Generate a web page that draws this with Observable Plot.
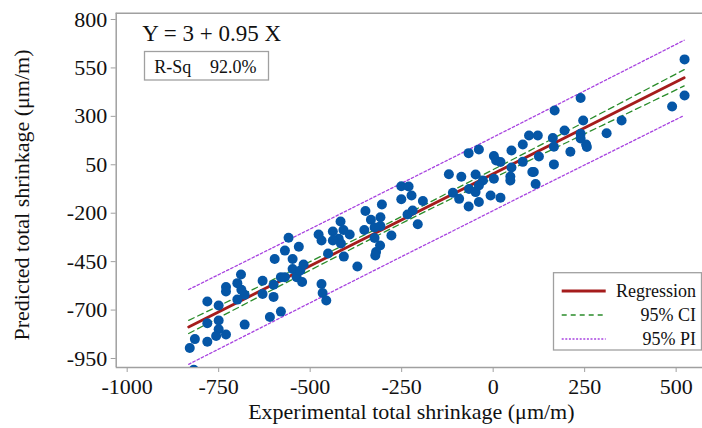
<!DOCTYPE html>
<html><head><meta charset="utf-8">
<script src="https://cdn.jsdelivr.net/npm/d3@7"></script>
<script src="https://cdn.jsdelivr.net/npm/@observablehq/plot@0.6"></script>
<style>html,body{margin:0;padding:0;background:#fff;}</style>
</head><body><div id="chart"></div>
<script>
const xTicks = [-1000, -750, -500, -250, 0, 250, 500];
const yTicks = [800, 550, 300, 50, -200, -450, -700, -950];
const xTitle = "Experimental total shrinkage (μm/m)";
const yTitle = "Predicted total shrinkage (μm/m)";
const equation = "Y = 3 + 0.95 X";
const rsqLabel = "R-Sq";
const rsqValue = "92.0%";
const legendLabels = ["Regression", "95% CI", "95% PI"];

const experimental = [523,523,489,351,310,239,246,168,195,163,166,166,239,239,254,256,211,98,122,81,50,125,81,50,47,47,107,111,116,2,8,20,2,-28,
 -67,-39,-121,-87,-48,-110,-93,-66,-48,-39,-67,-39,-7,20,-251,-231,-251,-223,-192,-234,-220,-206,-304,-308,-308,-278,
 -349,-352,-334,-324,-324,-309,-320,-322,-371,-392,-409,-417,-422,-416,-408,-438,-438,-451,-477,-469,-469,-466,-456,
 -559,-569,-531,-548,-548,-580,-569,-537,-527,-518,-522,-597,-600,-600,-610,-580,-630,-630,-679,-679,-689,-688,-699,-699,
 -730,-730,-730,-750,-750,-750,-757,-781,-781,-781,-815,-829,-818];
const predicted = [594,408,351,279,213,395,279,330,227,188,143,52,210,186,155,142,117,201,201,155,124,93,65,36,-11,-31,13,13,-49,95,72,64,-22,-31,
 110,129,1,-12,0,-95,-126,-75,-91,-57,-165,-142,-109,-120,-61,-62,-128,-109,-137,-207,-186,-257,-155,-221,-266,-315,
 -189,-287,-234,-274,-328,-367,-400,-418,-475,-310,-287,-243,-332,-356,-424,-294,-341,-408,-310,-341,-565,-612,-651,
 -327,-393,-373,-436,-488,-530,-530,-530,-496,-465,-555,-436,-569,-632,-736,-708,-549,-617,-621,-775,-516,-595,-561,-646,
 -581,-604,-826,-676,-754,-799,-834,-656,-768,-864,-850,-896,-1008];

const regX = [-832, 522];
const regY = [-787, 499];
const fitX = [-832, -600, -400, -250, -100, 100, 300, 522];
const ciUpper = [-753, -542, -357, -217, -72, 123, 321, 541];
const ciLower = [-821, -592, -397, -252, -112, 73, 255, 457];
const piUpper = [-594, -376, -187, -45, 97, 288, 480, 693];
const piLower = [-980, -758, -567, -424, -282, -92, 96, 305];

const xDomain = [-1030, 572];
const yDomain = [-996.5, 832.5];

const C = {reg: "#a51c1c", ci: "#2a8c2a", pi: "#a843e0", dot: "#0556a6", axis: "#a0a0a0", text: "#111"};

const series = (xs, ys) => xs.map((x, i) => ({x, y: ys[i]}));

const plot = Plot.plot({
  width: 702, height: 428,
  marginLeft: 115.7, marginRight: 0, marginTop: 12.7, marginBottom: 61,
  style: {fontFamily: "Liberation Serif", fontSize: "22px", color: C.text, background: "#fff"},
  x: {domain: xDomain, axis: null},
  y: {domain: yDomain, axis: null},
  marks: [
    Plot.ruleX([xDomain[0]], {stroke: C.axis, strokeWidth: 1.5}),
    Plot.ruleY([yDomain[1]], {stroke: C.axis, strokeWidth: 1.5}),
    Plot.ruleY([yDomain[0]], {stroke: C.axis, strokeWidth: 1.5}),
    Plot.line(series(fitX, piUpper), {x: "x", y: "y", stroke: C.pi, strokeWidth: 1.3, strokeDasharray: "2.5,2.2", curve: "natural"}),
    Plot.line(series(fitX, piLower), {x: "x", y: "y", stroke: C.pi, strokeWidth: 1.3, strokeDasharray: "2.5,2.2", curve: "natural"}),
    Plot.line(series(fitX, ciUpper), {x: "x", y: "y", stroke: C.ci, strokeWidth: 1.3, strokeDasharray: "6,4", curve: "natural"}),
    Plot.line(series(fitX, ciLower), {x: "x", y: "y", stroke: C.ci, strokeWidth: 1.3, strokeDasharray: "6,4", curve: "natural"}),
    Plot.line(series(regX, regY), {x: "x", y: "y", stroke: C.reg, strokeWidth: 2.8}),
    Plot.dot(series(experimental, predicted), {x: "x", y: "y", r: 5, fill: C.dot, stroke: "none", clip: true}),
    Plot.axisX(xTicks, {anchor: "bottom", tickSize: 5, tickPadding: 6, stroke: C.axis, fill: C.text, fontSize: 22, tickFormat: d => String(d), label: null}),
    Plot.axisY(yTicks, {anchor: "left", tickSize: 5, tickPadding: 4, stroke: C.axis, fill: C.text, fontSize: 22, tickFormat: d => String(d), label: null}),
    Plot.text([xTitle], {frameAnchor: "bottom", dx: 2, dy: 44, lineAnchor: "middle", fontSize: 22, fill: C.text}),
    Plot.text([equation], {frameAnchor: "top-left", dx: 26, dy: 20, textAnchor: "start", lineAnchor: "middle", fontSize: 23, fill: C.text})
  ]
});
document.getElementById("chart").appendChild(plot);

const svg = d3.select(plot);
// Y axis title
svg.append("text")
  .attr("transform", "translate(22,195) rotate(-90)")
  .attr("text-anchor", "middle").attr("dy", "0.32em")
  .attr("font-family", "Liberation Serif").attr("font-size", 22).attr("fill", C.text)
  .text(yTitle);

// R-Sq box
const rg = svg.append("g").attr("font-family", "Liberation Serif").attr("font-size", 18).attr("fill", C.text).attr("text-anchor", "start");
rg.append("rect").attr("x", 144.5).attr("y", 51.5).attr("width", 124).attr("height", 28.5)
  .attr("fill", "#fff").attr("stroke", C.axis).attr("stroke-width", 1.3);
rg.append("text").attr("x", 154.3).attr("y", 73.3).text(rsqLabel);
rg.append("text").attr("x", 210).attr("y", 73.3).text(rsqValue);

// Legend
const lg = svg.append("g").attr("font-family", "Liberation Serif").attr("font-size", 18).attr("fill", C.text);
lg.append("rect").attr("x", 553.5).attr("y", 272.7).attr("width", 148).attr("height", 77.3)
  .attr("fill", "#fff").attr("stroke", C.axis).attr("stroke-width", 1.3);
const legStyles = [
  {stroke: C.reg, width: 2.8, dash: null},
  {stroke: C.ci, width: 1.3, dash: "5,4"},
  {stroke: C.pi, width: 1.3, dash: "2,1.6"}
];
legendLabels.forEach((lab, i) => {
  const yy = 291 + i * 24;
  const s = legStyles[i];
  const ln = lg.append("line").attr("x1", 561.7).attr("x2", 605.7).attr("y1", yy).attr("y2", yy)
    .attr("stroke", s.stroke).attr("stroke-width", s.width);
  if (s.dash) ln.attr("stroke-dasharray", s.dash);
  lg.append("text").attr("x", 696).attr("y", yy).attr("dy", "0.32em").attr("text-anchor", "end").text(lab);
});
</script>
</body></html>
